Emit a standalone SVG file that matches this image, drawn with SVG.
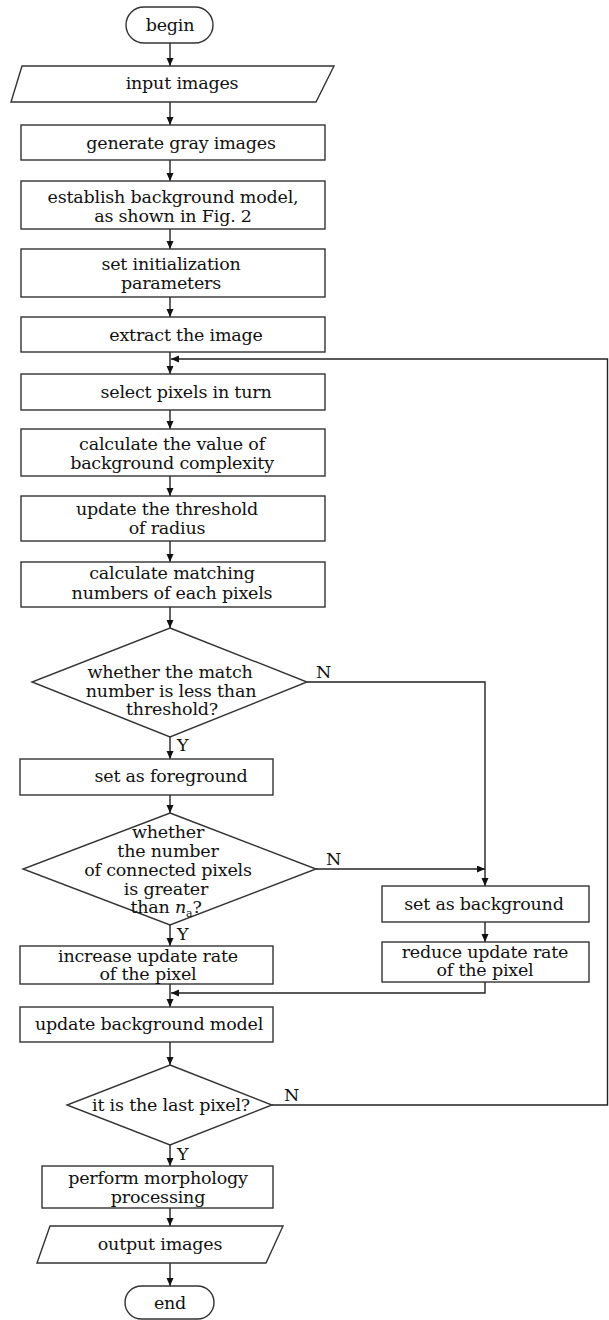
<svg xmlns="http://www.w3.org/2000/svg" width="609" height="1320" viewBox="0 0 609 1320">
<style>
.s{fill:#fff;stroke:#333;stroke-width:1.4}
.c{fill:none;stroke:#222;stroke-width:1.4}
text{font-family:"DejaVu Serif","Liberation Serif",serif;font-size:17.5px;fill:#111;text-anchor:middle;letter-spacing:-0.2px}
.l{text-anchor:start}
</style>
<defs>
<marker id="a" markerUnits="userSpaceOnUse" markerWidth="8" markerHeight="8" refX="8" refY="3.5" orient="auto">
<path d="M0,0 L8,3.5 L0,7 z" fill="#111"/>
</marker>
</defs>
<rect width="609" height="1320" fill="#fff"/>
<g id="connectors">
<path class="c" d="M170,43 V66" marker-end="url(#a)"/>
<path class="c" d="M170,102 V125" marker-end="url(#a)"/>
<path class="c" d="M170,160 V181" marker-end="url(#a)"/>
<path class="c" d="M170,229 V249" marker-end="url(#a)"/>
<path class="c" d="M170,297 V317" marker-end="url(#a)"/>
<path class="c" d="M170,352 V374" marker-end="url(#a)"/>
<path class="c" d="M170,410 V429" marker-end="url(#a)"/>
<path class="c" d="M170,476 V496" marker-end="url(#a)"/>
<path class="c" d="M170,541 V562" marker-end="url(#a)"/>
<path class="c" d="M170,607 V628" marker-end="url(#a)"/>
<path class="c" d="M170,737 V759" marker-end="url(#a)"/>
<path class="c" d="M170,795 V813" marker-end="url(#a)"/>
<path class="c" d="M170,925 V946" marker-end="url(#a)"/>
<path class="c" d="M307,682 H485 V886" marker-end="url(#a)"/>
<path class="c" d="M316,869 H485" marker-end="url(#a)"/>
<path class="c" d="M485,922 V942" marker-end="url(#a)"/>
<path class="c" d="M485,982 V993 H171" marker-end="url(#a)"/>
<path class="c" d="M170,984 V1007" marker-end="url(#a)"/>
<path class="c" d="M170,1042 V1065" marker-end="url(#a)"/>
<path class="c" d="M272,1105 H607.5 V359 H171" marker-end="url(#a)"/>
<path class="c" d="M170,1145 V1166" marker-end="url(#a)"/>
<path class="c" d="M170,1208 V1226" marker-end="url(#a)"/>
<path class="c" d="M170,1263 V1286" marker-end="url(#a)"/>
<text x="316" y="678" class="l">N</text>
<text x="177" y="751" class="l">Y</text>
<text x="326" y="865" class="l">N</text>
<text x="177" y="940" class="l">Y</text>
<text x="284" y="1101" class="l">N</text>
<text x="177" y="1160" class="l">Y</text>
</g>
<g id="begin">
<rect class="s" x="126" y="7" width="87" height="36" rx="18"/>
<text x="170" y="31">begin</text>
</g>
<g id="input">
<path class="s" d="M22,66 H334 L316,102 H11 Z"/>
<text x="182" y="89">input images</text>
</g>
<g id="gray">
<rect class="s" x="21" y="125" width="304" height="35"/>
<text x="181" y="149">generate gray images</text>
</g>
<g id="model">
<rect class="s" x="21" y="181" width="304" height="48"/>
<text x="173" y="203">establish background model,</text>
<text x="173" y="222">as shown in Fig. 2</text>
</g>
<g id="init">
<rect class="s" x="21" y="249" width="304" height="48"/>
<text x="171" y="270">set initialization</text>
<text x="171" y="289">parameters</text>
</g>
<g id="extract">
<rect class="s" x="21" y="317" width="304" height="35"/>
<text x="186" y="341">extract the image</text>
</g>
<g id="select">
<rect class="s" x="21" y="374" width="304" height="36"/>
<text x="186" y="398">select pixels in turn</text>
</g>
<g id="complexity">
<rect class="s" x="21" y="429" width="304" height="47"/>
<text x="172" y="450">calculate the value of</text>
<text x="172" y="469">background complexity</text>
</g>
<g id="radius">
<rect class="s" x="21" y="496" width="304" height="45"/>
<text x="167" y="515">update the threshold</text>
<text x="167" y="534">of radius</text>
</g>
<g id="matching">
<rect class="s" x="21" y="562" width="304" height="45"/>
<text x="172" y="579">calculate matching</text>
<text x="172" y="599">numbers of each pixels</text>
</g>
<g id="decision1">
<path class="s" d="M170,628 L307,682 L170,737 L32,682 Z"/>
<text x="170" y="678">whether the match</text>
<text x="171" y="697">number is less than</text>
<text x="172" y="715">threshold?</text>
</g>
<g id="foreground">
<rect class="s" x="20" y="759" width="253" height="36"/>
<text x="171" y="782">set as foreground</text>
</g>
<g id="decision2">
<path class="s" d="M170,813 L316,869 L170,925 L23,869 Z"/>
<text x="168" y="838">whether</text>
<text x="168" y="857">the number</text>
<text x="168" y="876">of connected pixels</text>
<text x="166" y="895">is greater</text>
<text x="166" y="913">than <tspan font-style="italic">n</tspan><tspan font-size="11" dy="4">a</tspan><tspan dy="-4">?</tspan></text>
</g>
<g id="background">
<rect class="s" x="382" y="886" width="207" height="36"/>
<text x="484" y="910">set as background</text>
</g>
<g id="increase">
<rect class="s" x="20" y="946" width="253" height="38"/>
<text x="148" y="962">increase update rate</text>
<text x="148" y="980">of the pixel</text>
</g>
<g id="reduce">
<rect class="s" x="382" y="942" width="207" height="40"/>
<text x="485" y="958">reduce update rate</text>
<text x="485" y="976">of the pixel</text>
</g>
<g id="update">
<rect class="s" x="20" y="1007" width="253" height="35"/>
<text x="149" y="1030">update background model</text>
</g>
<g id="decision3">
<path class="s" d="M170,1065 L272,1105 L170,1145 L67,1105 Z"/>
<text x="171" y="1111">it is the last pixel?</text>
</g>
<g id="morphology">
<rect class="s" x="42" y="1166" width="231" height="42"/>
<text x="158" y="1184">perform morphology</text>
<text x="158" y="1203">processing</text>
</g>
<g id="output">
<path class="s" d="M50,1226 H283 L266,1263 H37 Z"/>
<text x="160" y="1250">output images</text>
</g>
<g id="end">
<rect class="s" x="125" y="1286" width="89" height="33" rx="16.5"/>
<text x="170" y="1309">end</text>
</g>
</svg>
